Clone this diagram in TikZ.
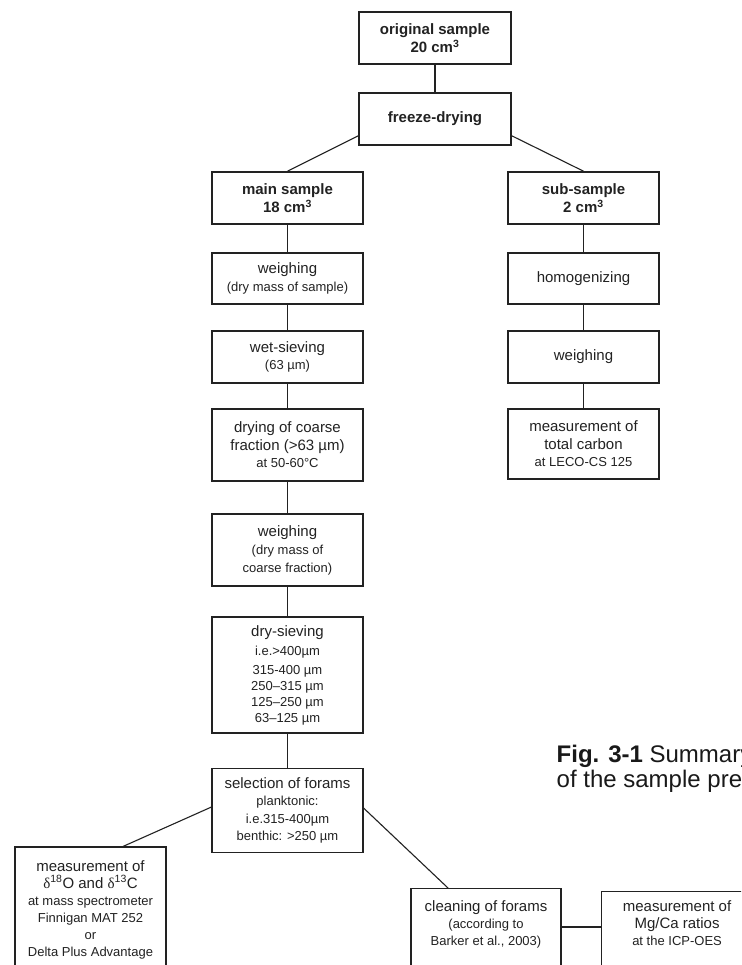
\documentclass[tikz,border=0pt]{standalone}
\usepackage{fontspec}
\setmainfont{Liberation Sans}
\newfontfamily\deltafont{Liberation Serif}
\definecolor{ink}{HTML}{222222}
\newcommand\mainline[1]{{\fontsize{15}{17}\selectfont #1}}
\newcommand\dlt{{\deltafont δ}}
\begin{document}
\begin{tikzpicture}[x=1pt,y=-1pt,
  boldbox/.style={draw=ink, line width=1.6pt, minimum width=151pt, minimum height=52pt,
    inner sep=0pt, align=center, text=ink, font=\fontsize{15}{18}\selectfont\bfseries},
  stepbox/.style={draw=ink, line width=1.1pt, minimum width=151pt, inner sep=0pt,
    align=center, text=ink, font=\fontsize{13}{17.5}\selectfont},
  lbl/.style={inner sep=0pt, align=center, text=ink, font=\fontsize{13}{17}\selectfont},
  conn/.style={draw=ink, line width=1.1pt}]
\clip (0,0) rectangle (741,965);
\fill[white] (0,0) rectangle (741,965);

% top
\node[boldbox, minimum width=152pt] (orig) at (435,38) {original sample\\20 cm\textsuperscript{3}};
\node[boldbox, minimum width=152pt] (freeze) at (435,119) {freeze-drying};
\node[boldbox] (main) at (287.5,198) {main sample\\18 cm\textsuperscript{3}};
\node[boldbox] (sub) at (583.5,198) {sub-sample\\2 cm\textsuperscript{3}};

% main column
\node[stepbox, minimum height=51pt] (weigh1) at (287.5,278.5) {\mainline{weighing}\\(dry mass of sample)};
\node[stepbox, minimum height=52pt] (wet) at (287.5,357) {\mainline{wet-sieving}\\(63 µm)};
\node[stepbox, minimum height=72pt] (dry) at (287.5,445) {\mainline{drying of coarse}\\\mainline{fraction (>63 µm)}\\at 50-60°C};
\node[stepbox, minimum height=72pt] (weigh3) at (287.5,550) {\mainline{weighing}\\[1pt](dry mass of\\coarse fraction)};
\node[stepbox, minimum height=116pt, font=\fontsize{13}{16}\selectfont] (sieve) at (287.5,675)
  {\mainline{dry-sieving}\\[3pt]i.e.>400µm\\[3pt]315-400 µm\\250–315 µm\\125–250 µm\\63–125 µm};
\node[stepbox, minimum height=84pt] (select) at (287.5,810.5)
  {\mainline{selection of forams}\\planktonic:\\i.e.315-400µm\\benthic: >250 µm};

% sub column
\node[stepbox, minimum height=51pt] (homog) at (583.5,278.5) {\mainline{homogenizing}};
\node[stepbox, minimum height=52pt] (weigh2) at (583.5,357) {\mainline{weighing}};
\node[stepbox, minimum height=70pt] (carbon) at (583.5,444) {\mainline{measurement of}\\\mainline{total carbon}\\at LECO-CS 125};

% bottom
\node[stepbox, minimum height=125pt, font=\fontsize{13}{17}\selectfont] (delta) at (90.5,909.5)
  {\mainline{measurement of}\\\mainline{\dlt\textsuperscript{18}O and \dlt\textsuperscript{13}C}\\at mass spectrometer\\Finnigan MAT 252\\or\\Delta Plus Advantage};
\node[stepbox, minimum width=150pt, minimum height=110pt, anchor=north,
  label={[lbl, anchor=north, yshift=-12.5pt]north:{\mainline{cleaning of forams}\\(according to\\Barker et al., 2003)}}]
  (clean) at (486,888) {};
\node[stepbox, minimum height=110pt, anchor=north west,
  label={[lbl, anchor=north, yshift=-9.5pt]north:{\mainline{measurement of}\\\mainline{Mg/Ca ratios}\\at the ICP-OES}}]
  (mgca) at (601,891) {};

% caption
\node[anchor=base west, inner sep=0pt, align=left, text=black!90,
  font=\fontsize{24}{25.5}\selectfont] (cap) at (556.5,787.5)
  {\textbf{Fig. 3-1} Summary\\of the sample prep};

% connectors
\draw[conn] (orig) -- (freeze);
\draw[conn] ([yshift=10pt]freeze.south west) -- (main.north);
\draw[conn] ([yshift=10pt]freeze.south east) -- (sub.north);
\draw[conn] (main) -- (weigh1);
\draw[conn] (weigh1) -- (wet);
\draw[conn] (wet) -- (dry);
\draw[conn] (dry) -- (weigh3);
\draw[conn] (weigh3) -- (sieve);
\draw[conn] (sieve) -- (select);
\draw[conn] (sub) -- (homog);
\draw[conn] (homog) -- (weigh2);
\draw[conn] (weigh2) -- (carbon);
\draw[conn] ([yshift=3.5pt]select.west) -- ([xshift=32.5pt]delta.north);
\draw[conn] ([yshift=2.5pt]select.east) -- ([xshift=-38pt]clean.north);
\draw[conn] ([yshift=-39pt]clean.north east) -- ([yshift=-36pt]mgca.north west);
\end{tikzpicture}
\end{document}
